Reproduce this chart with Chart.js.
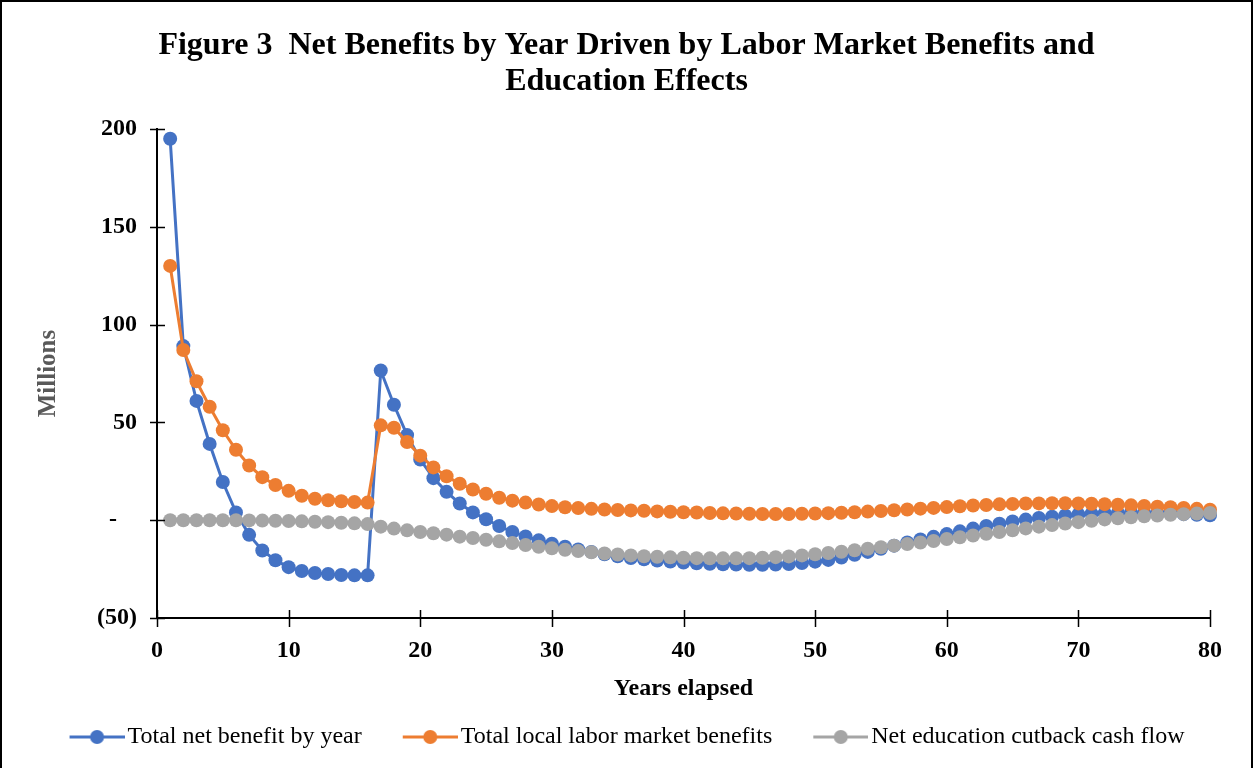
<!DOCTYPE html>
<html>
<head>
<meta charset="utf-8">
<title>Net Benefits by Year</title>
<script src="https://cdn.jsdelivr.net/npm/chart.js@4.4.1/dist/chart.umd.min.js"></script>
<style>
  html, body { margin: 0; padding: 0; background: #ffffff; }
  #c { display: block; }
</style>
</head>
<body>
<canvas id="c" width="1253" height="768"></canvas>
<script>
// Years elapsed (x values)
const years = [
   1,  2,  3,  4,  5,  6,  7,  8,  9, 10, 11, 12, 13, 14, 15, 16, 17, 18, 19, 20,
  21, 22, 23, 24, 25, 26, 27, 28, 29, 30, 31, 32, 33, 34, 35, 36, 37, 38, 39, 40,
  41, 42, 43, 44, 45, 46, 47, 48, 49, 50, 51, 52, 53, 54, 55, 56, 57, 58, 59, 60,
  61, 62, 63, 64, 65, 66, 67, 68, 69, 70, 71, 72, 73, 74, 75, 76, 77, 78, 79, 80
];

// Total net benefit by year (millions)
const totalNetBenefit = [
  195, 89, 61, 39, 19.5, 4, -7.5, -15.5, -20.5, -24,
  -26, -27, -27.5, -28, -28.2, -28.2, 76.5, 59, 43.5, 31,
  21.5, 14.5, 8.5, 4, 0.5, -3, -6, -8.3, -10.3, -12,
  -13.6, -15, -16.2, -17.4, -18.4, -19.3, -20, -20.6, -21.1, -21.6,
  -22, -22.3, -22.5, -22.7, -22.8, -22.8, -22.7, -22.4, -21.9, -21.2,
  -20.3, -19.1, -17.7, -16.2, -14.6, -13, -11.4, -9.9, -8.5, -7.1,
  -5.7, -4.3, -3, -1.8, -0.7, 0.3, 1.1, 1.8, 2.4, 2.9,
  3.3, 3.6, 3.7, 3.8, 3.7, 3.6, 3.4, 3.1, 2.8, 2.5
];

// Total local labor market benefits (millions)
const laborMarketBenefits = [
  130, 87, 71, 58, 46, 36, 28, 22, 18, 15,
  12.5, 11, 10.2, 9.7, 9.3, 9, 48.5, 47.3, 40, 33,
  27, 22.5, 18.6, 15.7, 13.5, 11.5, 10, 9, 8, 7.2,
  6.6, 6.2, 5.8, 5.5, 5.2, 5, 4.8, 4.5, 4.3, 4.1,
  3.9, 3.7, 3.5, 3.4, 3.3, 3.2, 3.2, 3.2, 3.3, 3.4,
  3.6, 3.8, 4.1, 4.4, 4.7, 5.1, 5.5, 5.9, 6.3, 6.7,
  7.1, 7.5, 7.8, 8.1, 8.3, 8.5, 8.6, 8.7, 8.7, 8.6,
  8.4, 8.2, 7.9, 7.6, 7.3, 6.9, 6.6, 6.2, 5.8, 5.4
];

// Net education cutback cash flow (millions)
const educationCutback = [
  0, 0, 0, 0, 0, 0, -0.1, -0.2, -0.3, -0.4,
  -0.6, -0.8, -1.0, -1.3, -1.6, -2, -3.3, -4.3, -5.2, -6,
  -6.7, -7.4, -8.4, -9.1, -10, -10.8, -11.7, -12.7, -13.6, -14.4,
  -15.1, -15.8, -16.4, -17, -17.5, -18, -18.4, -18.7, -19, -19.2,
  -19.4, -19.5, -19.5, -19.5, -19.4, -19.2, -18.9, -18.5, -18, -17.4,
  -16.8, -16.1, -15.4, -14.6, -13.8, -13, -12.2, -11.4, -10.6, -9.6,
  -8.7, -7.8, -6.9, -6, -5.1, -4.2, -3.3, -2.5, -1.7, -1,
  -0.3, 0.4, 1, 1.5, 2, 2.4, 2.8, 3.1, 3.4, 3.7
];

const seriesNames = [
  'Total net benefit by year',
  'Total local labor market benefits',
  'Net education cutback cash flow'
];
const titleLines = [
  'Figure 3  Net Benefits by Year Driven by Labor Market Benefits and',
  'Education Effects'
];
const xAxisTitle = 'Years elapsed';
const yAxisTitle = 'Millions';

const COLORS = ['#4472C4', '#ED7D31', '#A5A5A5'];
const SERIF = '"Liberation Serif", "Times New Roman", serif';

function toPoints(values) {
  return years.map((yr, i) => ({ x: yr, y: values[i] }));
}

// Accounting-style tick text: zero as a dash, negatives in parentheses
function accountingLabel(v) {
  if (v === 0) return '-\u2007 \u200A';
  if (v < 0) return '(' + Math.abs(v) + ')';
  return String(v);
}

// Legend marker: a short line with a dot in its middle
function legendIcon(color) {
  const c = document.createElement('canvas');
  c.width = 95; c.height = 16;
  const g = c.getContext('2d');
  g.strokeStyle = color;
  g.lineWidth = 3;
  g.beginPath();
  g.moveTo(40, 8); g.lineTo(95, 8);
  g.stroke();
  g.fillStyle = color;
  g.beginPath();
  g.arc(67.5, 8, 7, 0, Math.PI * 2);
  g.fill();
  return c;
}

function makeDataset(label, values, color, order) {
  return {
    label,
    data: toPoints(values),
    borderColor: color,
    backgroundColor: color,
    borderWidth: 3,
    pointRadius: 7,
    pointHoverRadius: 7,
    pointBorderWidth: 0,
    pointBackgroundColor: color,
    pointStyle: 'circle',
    tension: 0,
    clip: false,
    order,
    legendIcon: legendIcon(color)
  };
}

// White background, crossing tick marks on both axes, and the outer frame
const framePlugin = {
  id: 'framePlugin',
  afterLayout(chart) {
    // the marker's leading blank space is trimmed from the legend row
    const lg = chart.legend;
    if (lg) { lg.left -= 15; lg.right -= 15; }
  },
  beforeDraw(chart) {
    const ctx = chart.ctx;
    ctx.save();
    ctx.fillStyle = '#ffffff';
    ctx.fillRect(0, 0, chart.width, chart.height);
    ctx.restore();
  },
  afterDraw(chart) {
    const ctx = chart.ctx;
    const xs = chart.scales.x, ys = chart.scales.y;
    ctx.save();
    ctx.strokeStyle = '#000000';
    ctx.lineWidth = 1.5;
    ctx.beginPath();
    xs.ticks.forEach((t, i) => {
      const px = Math.round(xs.getPixelForTick(i)) + 0.5;
      ctx.moveTo(px, xs.top - 8);
      ctx.lineTo(px, xs.top + 9);
    });
    ys.ticks.forEach((t, i) => {
      const py = Math.round(ys.getPixelForTick(i)) + 0.5;
      ctx.moveTo(ys.right - 7, py);
      ctx.lineTo(ys.right + 8, py);
    });
    ctx.stroke();
    ctx.lineWidth = 2;
    ctx.beginPath();
    ctx.moveTo(1, chart.height);
    ctx.lineTo(1, 1);
    ctx.lineTo(chart.width - 1, 1);
    ctx.lineTo(chart.width - 1, chart.height);
    ctx.stroke();
    ctx.restore();
  }
};

const chart = new Chart(document.getElementById('c'), {
  type: 'line',
  data: {
    datasets: [
      makeDataset(seriesNames[0], totalNetBenefit, COLORS[0], 3),
      makeDataset(seriesNames[1], laborMarketBenefits, COLORS[1], 2),
      makeDataset(seriesNames[2], educationCutback, COLORS[2], 1)
    ]
  },
  options: {
    responsive: false,
    animation: false,
    devicePixelRatio: 1,
    layout: { padding: { left: 0, right: 0, top: 0, bottom: 9 } },
    plugins: {
      title: {
        display: true,
        text: titleLines,
        color: '#000000',
        font: { family: SERIF, size: 32, weight: 'bold', lineHeight: 1.125 },
        padding: { top: 28, bottom: 29 }
      },
      legend: {
        position: 'bottom',
        labels: {
          color: '#000000',
          font: { family: SERIF, size: 24 },
          usePointStyle: true,
          pointStyleWidth: 77,
          padding: 10,
          sort: (a, b) => a.datasetIndex - b.datasetIndex,
          generateLabels(ch) {
            return ch.data.datasets.map((ds, i) => ({
              text: ds.label,
              datasetIndex: i,
              fillStyle: ds.borderColor,
              strokeStyle: ds.borderColor,
              fontColor: '#000000',
              lineWidth: 0,
              hidden: false,
              pointStyle: ds.legendIcon
            }));
          }
        }
      },
      tooltip: { enabled: false }
    },
    scales: {
      x: {
        type: 'linear',
        min: 0,
        max: 80,
        grid: { display: false, drawTicks: false },
        border: { display: true, color: '#000000', width: 2 },
        ticks: {
          stepSize: 10,
          color: '#000000',
          padding: 18,
          font: { family: SERIF, size: 24, weight: 'bold' },
          maxRotation: 0
        },
        title: {
          display: true,
          text: xAxisTitle,
          color: '#000000',
          font: { family: SERIF, size: 24, weight: 'bold' },
          padding: { top: 0, bottom: 12 }
        },
        afterFit(scale) {
          scale.paddingRight = 43;
          scale.height = 97;
        }
      },
      y: {
        type: 'linear',
        min: -50,
        max: 200,
        grid: { display: false, drawTicks: false },
        border: { display: true, color: '#000000', width: 2 },
        ticks: {
          stepSize: 50,
          color: '#000000',
          padding: 20,
          font: { family: SERIF, size: 24, weight: 'bold' },
          callback: accountingLabel
        },
        title: {
          display: true,
          text: yAxisTitle,
          color: '#595959',
          font: { family: SERIF, size: 25, weight: 'bold' },
          padding: { top: 34, bottom: 0 }
        },
        afterFit(scale) { scale.width = 157; }
      }
    }
  },
  plugins: [framePlugin]
});
</script>
</body>
</html>
